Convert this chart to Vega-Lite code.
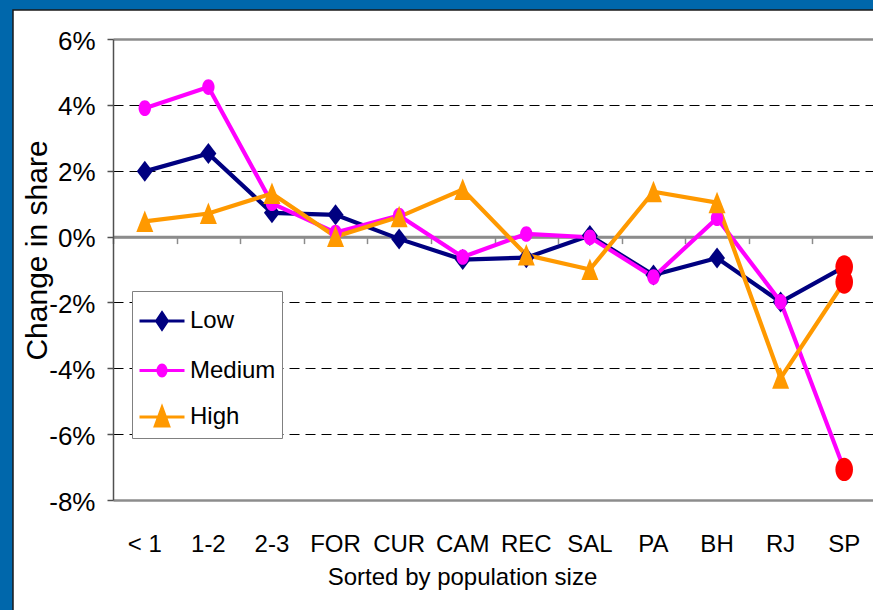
{
  "$schema": "https://vega.github.io/schema/vega-lite/v6.json",
  "width": 861,
  "height": 601,
  "autosize": {"type": "none"},
  "padding": {"left": 13, "top": 10, "right": -1, "bottom": -1},
  "background": "#0067ab",
  "view": {"fill": "#ffffff", "stroke": "#1a1a1a", "strokeWidth": 1.5},
  "config": {"font": "Liberation Sans"},
  "data": {"values": [
    {"cat": "< 1", "series": "Low", "value": 1.98},
    {"cat": "1-2", "series": "Low", "value": 2.52},
    {"cat": "2-3", "series": "Low", "value": 0.72},
    {"cat": "FOR", "series": "Low", "value": 0.66},
    {"cat": "CUR", "series": "Low", "value": -0.07},
    {"cat": "CAM", "series": "Low", "value": -0.7},
    {"cat": "REC", "series": "Low", "value": -0.64},
    {"cat": "SAL", "series": "Low", "value": 0.03},
    {"cat": "PA", "series": "Low", "value": -1.17},
    {"cat": "BH", "series": "Low", "value": -0.65},
    {"cat": "RJ", "series": "Low", "value": -1.99},
    {"cat": "SP", "series": "Low", "value": -0.92},
    {"cat": "< 1", "series": "Medium", "value": 3.9},
    {"cat": "1-2", "series": "Medium", "value": 4.54},
    {"cat": "2-3", "series": "Medium", "value": 1.01},
    {"cat": "FOR", "series": "Medium", "value": 0.12},
    {"cat": "CUR", "series": "Medium", "value": 0.64},
    {"cat": "CAM", "series": "Medium", "value": -0.62},
    {"cat": "REC", "series": "Medium", "value": 0.08},
    {"cat": "SAL", "series": "Medium", "value": -0.02},
    {"cat": "PA", "series": "Medium", "value": -1.23},
    {"cat": "BH", "series": "Medium", "value": 0.56},
    {"cat": "RJ", "series": "Medium", "value": -1.98},
    {"cat": "SP", "series": "Medium", "value": -7.07},
    {"cat": "< 1", "series": "High", "value": 0.46},
    {"cat": "1-2", "series": "High", "value": 0.7},
    {"cat": "2-3", "series": "High", "value": 1.31},
    {"cat": "FOR", "series": "High", "value": 0.0},
    {"cat": "CUR", "series": "High", "value": 0.6},
    {"cat": "CAM", "series": "High", "value": 1.43},
    {"cat": "REC", "series": "High", "value": -0.56},
    {"cat": "SAL", "series": "High", "value": -1.0},
    {"cat": "PA", "series": "High", "value": 1.36},
    {"cat": "BH", "series": "High", "value": 1.03},
    {"cat": "RJ", "series": "High", "value": -4.3},
    {"cat": "SP", "series": "High", "value": -1.38}
  ]},
  "resolve": {"axis": {"x": "independent", "y": "independent"}, "legend": {"color": "independent"}},
  "layer": [
    {
      "mark": {"type": "line", "strokeWidth": 4.2},
      "encoding": {
        "x": {"field": "cat", "type": "nominal",
          "sort": ["< 1", "1-2", "2-3", "FOR", "CUR", "CAM", "REC", "SAL", "PA", "BH", "RJ", "SP"],
          "scale": {"type": "band", "domain": ["< 1", "1-2", "2-3", "FOR", "CUR", "CAM", "REC", "SAL", "PA", "BH", "RJ", "SP"], "range": [100, 863], "paddingInner": 0, "paddingOuter": 0},
          "axis": {"orient": "bottom", "offset": -374.4, "labels": false, "title": null, "grid": false, "domain": true, "domainColor": "#8c8c8c", "domainWidth": 2.5, "ticks": true, "tickBand": "extent", "tickSize": 7, "tickColor": "#8c8c8c", "tickWidth": 1.5}
        },
        "y": {"field": "value", "type": "quantitative",
          "scale": {"domain": [-8, 6], "range": [490, 29], "nice": false, "zero": false},
          "axis": {
            "title": "Change in share",
            "values": [-8, -6, -4, -2, 0, 2, 4, 6],
            "labelExpr": "datum.value + '%'",
            "offset": -100,
            "domainColor": "#505050", "domainWidth": 1.5,
            "tickColor": "#505050", "tickSize": 6, "tickWidth": 1.5,
            "labelFontSize": 26, "labelPadding": 12, "labelColor": "#000000", "labelOffset": 2,
            "grid": true,
            "gridColor": {"condition": {"test": "datum.value == 6 || datum.value == -8 || datum.value == 0", "value": "#8c8c8c"}, "value": "#000000"},
            "gridDash": {"condition": {"test": "datum.value == 6 || datum.value == -8 || datum.value == 0", "value": []}, "value": [10, 6]},
            "gridWidth": {"condition": {"test": "datum.value == 6 || datum.value == -8 || datum.value == 0", "value": 2.5}, "value": 1},
            "titleFontSize": 30, "titleFontWeight": "normal", "titleColor": "#000000",
            "titleX": -61, "titleY": 240, "titleAngle": -90, "titleBaseline": "bottom", "titleAlign": "center"
          }
        },
        "color": {"field": "series", "type": "nominal",
          "scale": {"domain": ["Low", "Medium", "High"], "range": ["#000080", "#ff00ff", "#ff9900"]},
          "legend": null}
      }
    },
    {
      "transform": [{"filter": "datum.series == 'Low' && datum.cat != 'SP'"}],
      "mark": {"type": "point", "filled": true, "opacity": 1, "color": "#000080", "size": 400, "shape": "M0,-1.05L0.8,0L0,1.05L-0.8,0Z"},
      "encoding": {
        "x": {"field": "cat", "type": "nominal",
          "sort": ["< 1", "1-2", "2-3", "FOR", "CUR", "CAM", "REC", "SAL", "PA", "BH", "RJ", "SP"],
          "axis": {"orient": "bottom", "offset": -111, "domain": false, "ticks": false, "tickSize": 0, "grid": false,
            "labelAngle": 0, "labelPadding": 51, "labelBaseline": "alphabetic", "labelFontSize": 24, "labelColor": "#000000",
            "title": "Sorted by population size", "titleFontSize": 24, "titleFontWeight": "normal", "titleColor": "#000000",
            "titleX": 449, "titleY": 84, "titleBaseline": "alphabetic", "titleAlign": "center"}
        },
        "y": {"field": "value", "type": "quantitative", "axis": null}
      }
    },
    {
      "transform": [{"filter": "datum.series == 'Medium' && datum.cat != 'SP'"}],
      "mark": {"type": "point", "filled": true, "opacity": 1, "color": "#ff00ff", "size": 400, "shape": "M0.62,0A0.62,0.78,0,1,1,-0.62,0A0.62,0.78,0,1,1,0.62,0Z"},
      "encoding": {
        "x": {"field": "cat", "type": "nominal", "sort": ["< 1", "1-2", "2-3", "FOR", "CUR", "CAM", "REC", "SAL", "PA", "BH", "RJ", "SP"], "axis": null},
        "y": {"field": "value", "type": "quantitative", "axis": null}
      }
    },
    {
      "transform": [{"filter": "datum.series == 'High' && datum.cat != 'SP'"}],
      "mark": {"type": "point", "filled": true, "opacity": 1, "color": "#ff9900", "size": 400, "shape": "M0,-1.1L0.85,1.05L-0.85,1.05Z"},
      "encoding": {
        "x": {"field": "cat", "type": "nominal", "sort": ["< 1", "1-2", "2-3", "FOR", "CUR", "CAM", "REC", "SAL", "PA", "BH", "RJ", "SP"], "axis": null},
        "y": {"field": "value", "type": "quantitative", "axis": null}
      }
    },
    {
      "transform": [{"filter": "datum.cat == 'SP'"}],
      "mark": {"type": "point", "filled": true, "opacity": 1, "color": "#ff0000", "size": 400, "shape": "M0.88,0A0.88,1.17,0,1,1,-0.88,0A0.88,1.17,0,1,1,0.88,0Z"},
      "encoding": {
        "x": {"field": "cat", "type": "nominal", "sort": ["< 1", "1-2", "2-3", "FOR", "CUR", "CAM", "REC", "SAL", "PA", "BH", "RJ", "SP"], "axis": null},
        "y": {"field": "value", "type": "quantitative", "axis": null}
      }
    },
    {
      "transform": [{"filter": "datum.series == 'none'"}],
      "mark": {"type": "point", "filled": true, "opacity": 1, "size": 2025},
      "encoding": {
        "x": {"field": "cat", "type": "nominal", "sort": ["< 1", "1-2", "2-3", "FOR", "CUR", "CAM", "REC", "SAL", "PA", "BH", "RJ", "SP"], "axis": null},
        "y": {"field": "value", "type": "quantitative", "axis": null},
        "color": {"field": "series", "type": "nominal",
          "legend": {"orient": "none", "legendX": 119, "legendY": 281, "title": null, "fillColor": "#ffffff", "strokeColor": "#808080",
            "padding": 6, "rowPadding": 10.5, "labelFontSize": 24, "labelColor": "#000000", "labelOffset": 4,
            "symbolSize": 2025, "symbolStrokeWidth": 3, "symbolOpacity": 1,
            "encode": {"symbols": {"update": {
              "shape": {"signal": "datum.value === 'Low' ? 'M-1,0H1M0,-0.36L0.24,0L0,0.36L-0.24,0Z' : (datum.value === 'Medium' ? 'M-1,0H1M0.18,0A0.18,0.24,0,1,1,-0.18,0A0.18,0.24,0,1,1,0.18,0Z' : 'M-1,0H1M0,-0.42L0.3,0.4L-0.3,0.4Z')"},
              "stroke": {"scale": "color", "field": "value"},
              "strokeWidth": {"value": 3}}}}}}
      }
    }
  ]
}
